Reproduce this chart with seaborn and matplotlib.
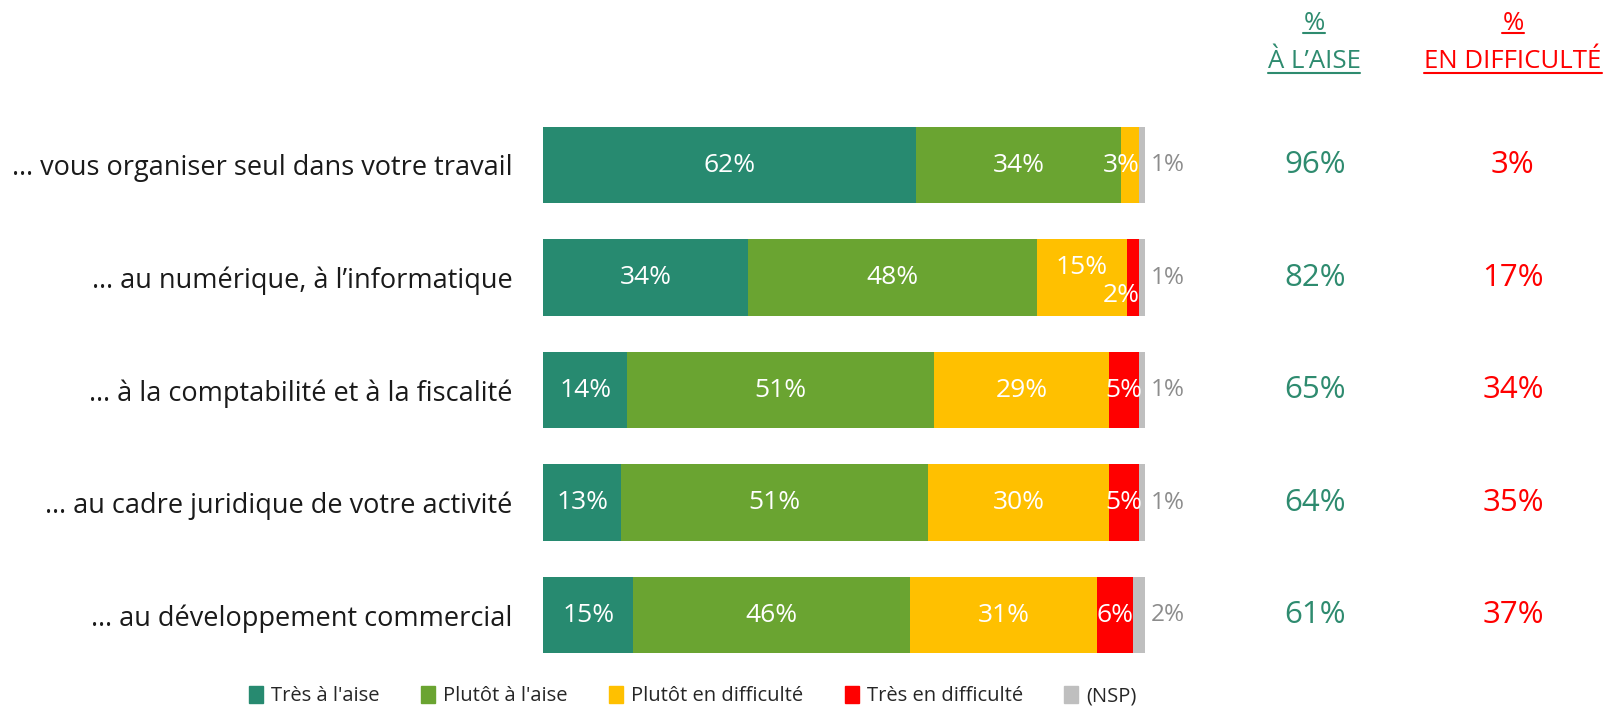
import numpy as np
import pandas as pd
import seaborn as sns
import matplotlib.pyplot as plt
from matplotlib.patches import Patch
from matplotlib.lines import Line2D

categories = [
    "… vous organiser seul dans votre travail",
    "… au numérique, à l’informatique",
    "… à la comptabilité et à la fiscalité",
    "… au cadre juridique de votre activité",
    "… au développement commercial",
]
series_names = ["Très à l'aise", "Plutôt à l'aise", "Plutôt en difficulté",
                "Très en difficulté", "(NSP)"]
tres_aise = [62, 34, 14, 13, 15]
plutot_aise = [34, 48, 51, 51, 46]
plutot_diff = [3, 15, 29, 30, 31]
tres_diff = [0, 2, 5, 5, 6]
nsp = [1, 1, 1, 1, 2]
total_aise = [96, 82, 65, 64, 61]
total_diff = [3, 17, 34, 35, 37]

colors = ['#278A70', '#6AA431', '#FFC000', '#FF0000', '#BFBFBF']
green_txt = '#2E8B6F'
red_txt = '#FF0000'

sns.set_style('white')
plt.rcParams['font.family'] = ['Open Sans', 'DejaVu Sans']

df = pd.DataFrame(dict(zip(series_names,
                           [tres_aise, plutot_aise, plutot_diff, tres_diff, nsp])),
                  index=categories)
cum = df.cumsum(axis=1)

fig = plt.figure(figsize=(16.19, 7.07), dpi=100)
ax = fig.add_axes([543 / 1619, 1 - 682.5 / 707, 1 - 543 / 1619, 585 / 707])

# barres empilées : on dessine les cumuls du plus long au plus court
for name, col in reversed(list(zip(series_names, colors))):
    sns.barplot(x=cum[name].values, y=categories, orient='h', color=col,
                width=0.68, saturation=1, linewidth=0, ax=ax)

ax.set_xlim(0, 100 * (1619 - 543) / 602)
ax.set_ylim(4.6, -0.6)
ax.set_xlabel('')
ax.set_ylabel('')
ax.set_xticks([])
ax.tick_params(axis='y', length=0, pad=22, labelsize=19.5, labelcolor='#1a1a1a')
sns.despine(ax=ax, left=True, bottom=True)

# étiquettes dans les barres
for i in range(len(categories)):
    left = 0
    vals = df.iloc[i].values
    for j in range(4):
        v = vals[j]
        if v == 0:
            continue
        x, ha, dy = left + v / 2, 'center', 0
        if v < 4:
            x, ha = left + v + 0.2, 'right'
            if vals[j - 1] < 20:
                dy = 0.16
        ax.text(x, i + dy, f"{v}%", ha=ha, va='center', color='white', fontsize=19)
        if v < 4 and dy:
            # décale l'étiquette précédente vers le haut
            ax.texts[-2].set_y(i - 0.09)
        left += v
    ax.text(100 + 1.0, i, f"{vals[4]}%", ha='left', va='center',
            color='#8C8C8C', fontsize=17.5)
    ax.text(128.2, i, f"{total_aise[i]}%", ha='center', va='center',
            color=green_txt, fontsize=22.5)
    ax.text(161.1, i, f"{total_diff[i]}%", ha='center', va='center',
            color=red_txt, fontsize=22.5)

# en-têtes soulignés
heads = []
for xc, lab, col in [(1314, "À L’AISE", green_txt), (1513, "EN DIFFICULTÉ", red_txt)]:
    heads.append(fig.text(xc / 1619, 1 - 23 / 707, "%", ha='center', va='center',
                          color=col, fontsize=18.5))
    heads.append(fig.text(xc / 1619, 1 - 62 / 707, lab, ha='center', va='center',
                          color=col, fontsize=18.5))
fig.canvas.draw()
inv = fig.transFigure.inverted()
for t in heads:
    bb = t.get_window_extent()
    (x0, y0), (x1, _) = inv.transform([(bb.x0, bb.y0 + 2), (bb.x1, bb.y0)])
    fig.add_artist(Line2D([x0, x1], [y0, y0], color=t.get_color(), lw=1.5))

handles = [Patch(color=c, label=n) for n, c in zip(series_names, colors)]
fig.legend(handles=handles, loc='center', bbox_to_anchor=(693 / 1619, 1 - 696 / 707),
           ncol=5, frameon=False, fontsize=14.5, handlelength=0.7, handleheight=0.9,
           handletextpad=0.4, columnspacing=2.05)

fig.savefig('out.png', dpi=100)
